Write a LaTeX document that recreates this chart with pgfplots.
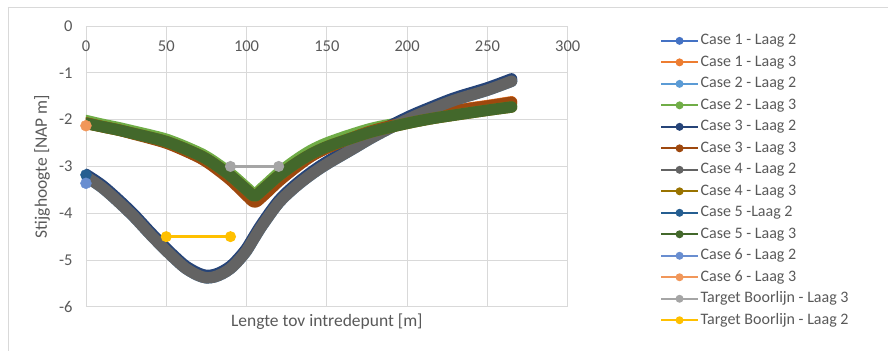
\documentclass[border=0pt]{standalone}
\usepackage{pgfplots}
\pgfplotsset{compat=1.18}
\usepackage{pgfplotstable}
\usepackage{fontspec}
\setmainfont{Carlito}

\definecolor{txt}{HTML}{595959}
\definecolor{gridc}{HTML}{D9D9D9}
\definecolor{frame}{HTML}{D9D9D9}
\definecolor{cA}{HTML}{4472C4}
\definecolor{cB}{HTML}{ED7D31}
\definecolor{cC}{HTML}{5B9BD5}
\definecolor{cD}{HTML}{70AD47}
\definecolor{cE}{HTML}{264478}
\definecolor{cF}{HTML}{9E480E}
\definecolor{cG}{HTML}{636363}
\definecolor{cH}{HTML}{997300}
\definecolor{cI}{HTML}{255E91}
\definecolor{cJ}{HTML}{43682B}
\definecolor{cK}{HTML}{698ED0}
\definecolor{cL}{HTML}{F1975A}
\definecolor{cM}{HTML}{A5A5A5}
\definecolor{cN}{HTML}{FFC000}

% Laag 2 curves
\pgfplotstableread{
x   c1    c2    c3    c4
0   -3.20 -3.22 -3.17 -3.22
10  -3.43 -3.45 -3.40 -3.45
20  -3.73 -3.75 -3.70 -3.75
30  -4.06 -4.08 -4.03 -4.08
40  -4.43 -4.45 -4.40 -4.45
50  -4.78 -4.80 -4.75 -4.80
60  -5.10 -5.12 -5.07 -5.12
65  -5.22 -5.24 -5.19 -5.24
70  -5.31 -5.33 -5.28 -5.33
75  -5.36 -5.38 -5.33 -5.38
80  -5.34 -5.36 -5.31 -5.36
85  -5.27 -5.29 -5.24 -5.29
90  -5.16 -5.18 -5.13 -5.18
95  -4.99 -5.01 -4.96 -5.01
100 -4.78 -4.80 -4.75 -4.80
105 -4.50 -4.52 -4.47 -4.52
110 -4.23 -4.25 -4.20 -4.25
120 -3.76 -3.78 -3.73 -3.78
130 -3.43 -3.45 -3.40 -3.45
140 -3.16 -3.18 -3.13 -3.18
150 -2.93 -2.95 -2.90 -2.95
165 -2.63 -2.65 -2.60 -2.65
180 -2.33 -2.35 -2.30 -2.35
200 -1.98 -2.00 -1.95 -2.00
215 -1.76 -1.78 -1.73 -1.78
230 -1.56 -1.58 -1.53 -1.58
250 -1.35 -1.37 -1.32 -1.37
265 -1.16 -1.18 -1.13 -1.18
}\laagtwee

% Laag 3 curves
\pgfplotstableread{
x   c1    c2    c3    c4    c5
0   -2.06 -2.02 -2.07 -2.08 -2.08
10  -2.14 -2.10 -2.15 -2.15 -2.15
20  -2.21 -2.17 -2.22 -2.22 -2.22
30  -2.30 -2.25 -2.31 -2.30 -2.30
40  -2.39 -2.33 -2.40 -2.38 -2.38
50  -2.49 -2.42 -2.50 -2.47 -2.47
60  -2.63 -2.55 -2.64 -2.60 -2.60
70  -2.79 -2.70 -2.80 -2.75 -2.75
75  -2.89 -2.79 -2.90 -2.84 -2.84
80  -3.00 -2.90 -3.02 -2.95 -2.95
90  -3.27 -3.15 -3.29 -3.20 -3.20
100 -3.60 -3.45 -3.62 -3.50 -3.50
105 -3.74 -3.58 -3.76 -3.63 -3.63
110 -3.62 -3.45 -3.64 -3.50 -3.50
120 -3.30 -3.14 -3.32 -3.20 -3.20
130 -3.02 -2.88 -3.04 -2.95 -2.95
140 -2.78 -2.66 -2.79 -2.74 -2.74
150 -2.60 -2.50 -2.61 -2.58 -2.58
165 -2.39 -2.32 -2.40 -2.40 -2.40
180 -2.21 -2.17 -2.22 -2.24 -2.24
200 -2.04 -2.04 -2.05 -2.08 -2.08
215 -1.92 -1.95 -1.93 -1.98 -1.98
230 -1.80 -1.86 -1.81 -1.90 -1.90
250 -1.70 -1.76 -1.71 -1.80 -1.80
265 -1.62 -1.69 -1.63 -1.73 -1.73
}\laagdrie

\begin{document}
\begin{tikzpicture}
\path (-86pt,-44pt) rectangle (802pt,307pt);
\draw[frame, line width=0.8pt] (-78pt,300pt) -- (802pt,300pt);
\draw[frame, line width=0.8pt] (-78pt,300pt) -- (-78pt,-44pt);
\begin{axis}[
  name=ax, at={(0pt,0pt)}, anchor=south west,
  scale only axis, width=482pt, height=281pt,
  xmin=0, xmax=300, ymin=-6, ymax=0,
  xtick={0,50,...,300}, ytick={-6,-5,...,0},
  grid=major, grid style={draw=gridc, line width=0.8pt},
  axis line style={draw=gridc, line width=0.8pt},
  major tick length=0pt,
  xticklabel pos=upper,
  /pgf/number format/assume math mode=true,
  ticklabel style={font=\fontsize{16.5}{19}\selectfont, text=txt},
  xticklabel style={anchor=north, yshift=-11pt},
  yticklabel style={anchor=east, xshift=-10pt},
  xlabel={Lengte tov intredepunt [m]},
  ylabel={Stijghoogte [NAP m]},
  label style={font=\fontsize{17.5}{20}\selectfont, text=txt},
  xlabel style={at={(rel axis cs:0.5,0)}, anchor=center, yshift=-15pt},
  ylabel style={at={(rel axis cs:0,0.5)}, anchor=center, yshift=44pt},
  legend cell align=left,
  legend style={at={(rel axis cs:1.191,0.978)}, anchor=north west,
    draw=none, fill=none, font=\fontsize{16}{19}\selectfont, text=txt,
    row sep=4.5pt, inner sep=0pt,
    nodes={inner sep=1.5pt, text height=11pt, text depth=3pt}},
  legend image code/.code={
    \draw[line width=2.2pt, line cap=butt] (0pt,0pt) -- (37pt,0pt);
    \path[fill, draw=none] (18.5pt,0pt) circle (4pt);},
  curve/.style={line width=11.5pt, line cap=round, line join=round, mark=none, smooth, tension=0.55},
  dot/.style={only marks, mark=*, mark size=5.5pt},
]
\addplot[cA, curve] table[x=x, y=c1] {\laagtwee};
\addlegendentry{Case 1 - Laag 2}
\addplot[cB, curve] table[x=x, y=c1] {\laagdrie};
\addlegendentry{Case 1 - Laag 3}
\addplot[cC, curve] table[x=x, y=c2] {\laagtwee};
\addlegendentry{Case 2 - Laag 2}
\addplot[cD, curve] table[x=x, y=c2] {\laagdrie};
\addlegendentry{Case 2 - Laag 3}
\addplot[cE, curve] table[x=x, y=c3] {\laagtwee};
\addlegendentry{Case 3 - Laag 2}
\addplot[cF, curve] table[x=x, y=c3] {\laagdrie};
\addlegendentry{Case 3 - Laag 3}
\addplot[cG, curve] table[x=x, y=c4] {\laagtwee};
\addlegendentry{Case 4 - Laag 2}
\addplot[cH, curve] table[x=x, y=c4] {\laagdrie};
\addlegendentry{Case 4 - Laag 3}
\addplot[cI, dot] coordinates {(0,-3.18)};
\addlegendentry{Case 5 -Laag 2}
\addplot[cJ, curve] table[x=x, y=c5] {\laagdrie};
\addlegendentry{Case 5 - Laag 3}
\addplot[cK, dot] coordinates {(0,-3.36)};
\addlegendentry{Case 6 - Laag 2}
\addplot[cL, dot] coordinates {(0,-2.13)};
\addlegendentry{Case 6 - Laag 3}
\addplot[cM, line width=2.5pt, mark=*, mark size=4.2pt] coordinates {(90,-3) (120,-3)};
\addlegendentry{Target Boorlijn - Laag 3}
\addplot[cN, line width=2.5pt, mark=*, mark size=4.2pt] coordinates {(50,-4.5) (90,-4.5)};
\addlegendentry{Target Boorlijn - Laag 2}
\end{axis}
\end{tikzpicture}
\end{document}
